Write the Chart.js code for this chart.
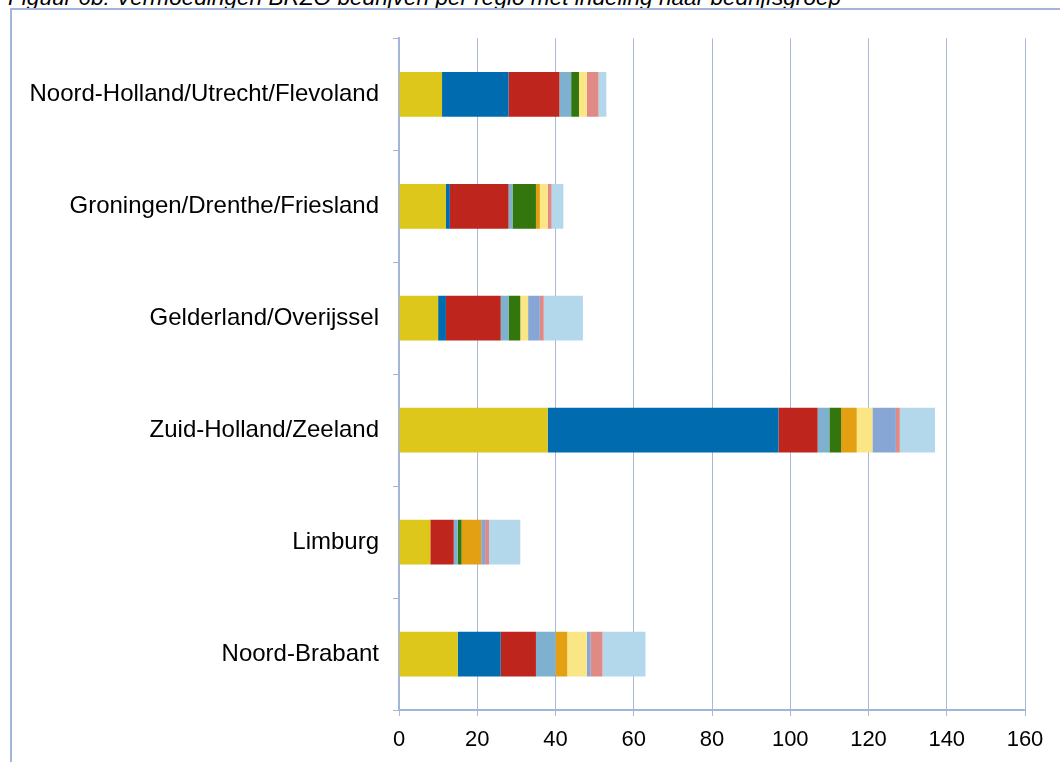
<!DOCTYPE html>
<html>
<head>
<meta charset="utf-8">
<script src="https://cdn.jsdelivr.net/npm/chart.js@4"></script>
<style>
  body { margin: 0; width: 1060px; height: 762px; overflow: hidden; background: #fff; position: relative; }
  #title { position: absolute; left: 8px; top: -15px; font: italic 22.6px "Liberation Sans", Arial, sans-serif; line-height: 25px; color: #000; white-space: nowrap; }
  #frame { position: absolute; left: 10px; top: 8px; width: 1100px; height: 800px; border: 2px solid #a3b6da; box-sizing: border-box; }
  #wrap { position: absolute; left: 12px; top: 10px; width: 1048px; height: 752px; }
</style>
</head>
<body>
<div id="title">Figuur 6b: Vermoedingen BRZO bedrijven per regio met indeling naar bedrijfsgroep</div>
<div id="frame"></div>
<div id="wrap"><canvas id="chart"></canvas></div>
<script>
regios = ['Noord-Holland/Utrecht/Flevoland', 'Groningen/Drenthe/Friesland', 'Gelderland/Overijssel', 'Zuid-Holland/Zeeland', 'Limburg', 'Noord-Brabant']

// aantallen per bedrijfsgroep, volgorde = regios
groep1 = [11, 12, 10, 38, 8, 15]
groep2 = [17, 1, 2, 59, 0, 11]
groep3 = [13, 15, 14, 10, 6, 9]
groep4 = [3, 1, 2, 3, 1, 5]
groep5 = [2, 6, 3, 3, 1, 0]
groep6 = [0, 1, 0, 4, 5, 3]
groep7 = [2, 2, 2, 4, 0, 5]
groep8 = [0, 0, 3, 6, 1, 1]
groep9 = [3, 1, 1, 1, 1, 3]
groep10 = [2, 3, 10, 9, 8, 11]

xTicks = [0, 20, 40, 60, 80, 100, 120, 140, 160]

groepen = [groep1, groep2, groep3, groep4, groep5, groep6, groep7, groep8, groep9, groep10]
kleuren = ['#ddc71a', '#006caf', '#be261d', '#7eb1cf', '#34760e', '#e2a012', '#fbe686', '#87a6d6', '#e08a86', '#b3d8ec']

datasets = groepen.map((g, i) => ({
    label: 'Groep ' + (i + 1),
    data: g,
    backgroundColor: kleuren[i],
    borderWidth: 0,
    barPercentage: 0.4,
    categoryPercentage: 1
}))

fam = '"Liberation Sans", Arial, sans-serif'

new Chart(document.getElementById('chart').getContext('2d'), {
    type: 'bar',
    data: { labels: regios, datasets: datasets },
    options: {
        indexAxis: 'y',
        responsive: true,
        maintainAspectRatio: false,
        animation: false,
        layout: { padding: { top: 27, right: 35, left: 0, bottom: 0 } },
        plugins: { legend: { display: false }, tooltip: { enabled: false } },
        scales: {
            x: {
                stacked: true,
                min: 0,
                max: 160,
                afterBuildTicks: (s) => { s.ticks = xTicks.map(v => ({ value: v })) },
                afterFit: (s) => { s.height = 52 },
                grid: { color: '#a9b8d9', lineWidth: 1, tickLength: 6, drawTicks: true },
                border: { color: '#a3b6da', width: 2 },
                ticks: { color: '#000', font: { family: fam, size: 22 }, padding: 11 }
            },
            y: {
                stacked: true,
                afterFit: (s) => { s.width = 387 },
                grid: { offset: true, drawOnChartArea: false, tickLength: 6, color: '#a3b6da' },
                border: { color: '#a3b6da', width: 2 },
                ticks: { color: '#000', font: { family: fam, size: 24 }, padding: 14 }
            }
        }
    }
})
</script>
</body>
</html>
